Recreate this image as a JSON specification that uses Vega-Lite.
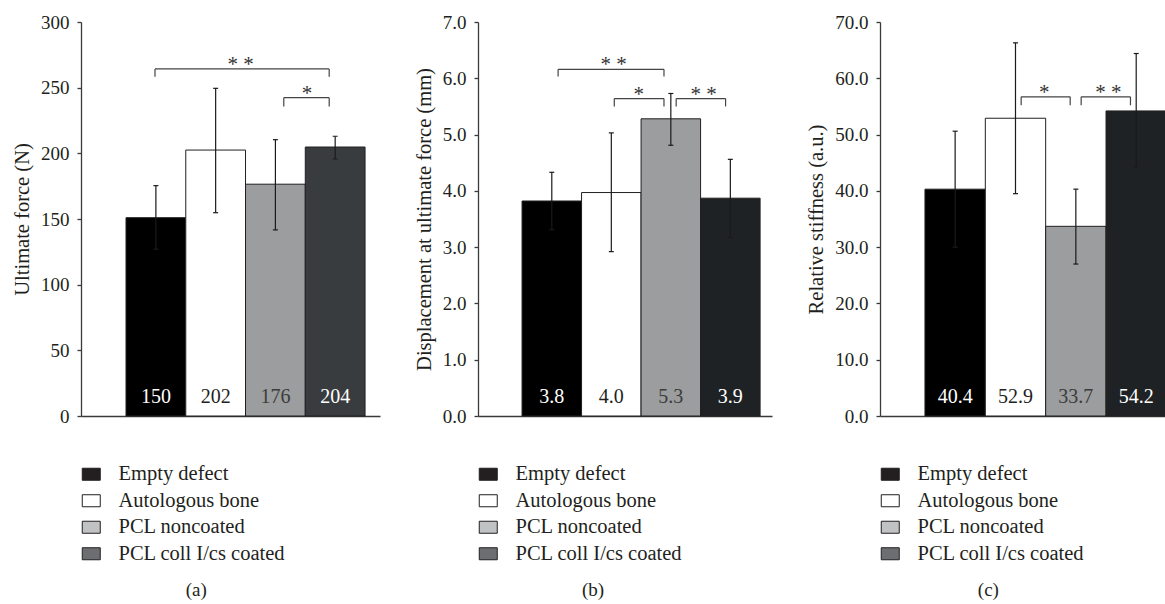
{
  "$schema": "https://vega.github.io/schema/vega-lite/v6.json",
  "padding": {"left": 12, "top": 13, "right": 0, "bottom": 0},
  "spacing": 34,
  "datasets": {
    "bars_a": [
      {"group": "Empty defect", "x0": 0, "x1": 1, "xc": 0.5, "mean": 151, "lo": 127, "hi": 175.4, "label": "150"},
      {"group": "Autologous bone", "x0": 1, "x1": 2, "xc": 1.5, "mean": 202.5, "lo": 154.8, "hi": 249.5, "label": "202"},
      {"group": "PCL noncoated", "x0": 2, "x1": 3, "xc": 2.5, "mean": 176.5, "lo": 141.7, "hi": 210.4, "label": "176"},
      {"group": "PCL coll I/cs coated", "x0": 3, "x1": 4, "xc": 3.5, "mean": 204.8, "lo": 195.7, "hi": 213, "label": "204"}
    ],
    "bars_b": [
      {"group": "Empty defect", "x0": 0, "x1": 1, "xc": 0.5, "mean": 3.82, "lo": 3.31, "hi": 4.33, "label": "3.8"},
      {"group": "Autologous bone", "x0": 1, "x1": 2, "xc": 1.5, "mean": 3.97, "lo": 2.92, "hi": 5.03, "label": "4.0"},
      {"group": "PCL noncoated", "x0": 2, "x1": 3, "xc": 2.5, "mean": 5.28, "lo": 4.81, "hi": 5.73, "label": "5.3"},
      {"group": "PCL coll I/cs coated", "x0": 3, "x1": 4, "xc": 3.5, "mean": 3.87, "lo": 3.17, "hi": 4.56, "label": "3.9"}
    ],
    "bars_c": [
      {"group": "Empty defect", "x0": 0, "x1": 1, "xc": 0.5, "mean": 40.3, "lo": 30.0, "hi": 50.6, "label": "40.4"},
      {"group": "Autologous bone", "x0": 1, "x1": 2, "xc": 1.5, "mean": 52.9, "lo": 39.5, "hi": 66.3, "label": "52.9"},
      {"group": "PCL noncoated", "x0": 2, "x1": 3, "xc": 2.5, "mean": 33.7, "lo": 27.0, "hi": 40.3, "label": "33.7"},
      {"group": "PCL coll I/cs coated", "x0": 3, "x1": 4, "xc": 3.5, "mean": 54.2, "lo": 44.1, "hi": 64.4, "label": "54.2"}
    ],
    "br_a": [
      {"xl": 0.485, "xr": 3.4, "xm": 1.92, "y": 264.3, "yt": 258.4, "stars": "* *"},
      {"xl": 2.64, "xr": 3.4, "xm": 3.03, "y": 242.4, "yt": 235.6, "stars": "*"}
    ],
    "br_b": [
      {"xl": 0.606, "xr": 2.385, "xm": 1.54, "y": 6.16, "yt": 6.03, "stars": "* *"},
      {"xl": 1.55, "xr": 2.385, "xm": 1.96, "y": 5.64, "yt": 5.5, "stars": "*"},
      {"xl": 2.59, "xr": 3.42, "xm": 3.05, "y": 5.64, "yt": 5.5, "stars": "* *"}
    ],
    "br_c": [
      {"xl": 1.594, "xr": 2.406, "xm": 1.975, "y": 56.7, "yt": 55.2, "stars": "*"},
      {"xl": 2.588, "xr": 3.405, "xm": 3.04, "y": 56.7, "yt": 55.2, "stars": "* *"}
    ]
  },
  "hconcat": [
    {
      "width": 299, "height": 394,
      "title": {"text": "(a)"},
      "layer": [
        {"data": {"name": "bars_a"},
         "mark": {"type": "bar", "stroke": "#231f20", "strokeWidth": 1},
         "encoding": {
           "x": {"field": "x0", "type": "quantitative", "scale": {"domain": [-0.753, 4.25], "nice": false, "zero": false}},
           "x2": {"field": "x1"},
           "y": {"field": "mean", "type": "quantitative", "scale": {"domain": [0, 300], "nice": false},
                 "axis": {"title": "Ultimate force (N)", "values": [0, 50, 100, 150, 200, 250, 300], "format": "d"}},
           "y2": {"datum": 0},
           "fill": {"condition": [{"test": "datum.group === 'Empty defect'", "value": "#000000"}, {"test": "datum.group === 'PCL noncoated'", "value": "#9b9d9e"}, {"test": "datum.group === 'PCL coll I/cs coated'", "value": "#393c3f"}],
                    "field": "group", "type": "nominal",
                    "scale": {"domain": ["Empty defect", "Autologous bone", "PCL noncoated", "PCL coll I/cs coated"], "range": ["#231f20", "#ffffff", "#c1c2c4", "#6d6e71"]},
                    "legend": {"orient": "none", "legendX": 0, "legendY": 442, "direction": "vertical", "title": null}}
         }},
        {"data": {"name": "bars_a"}, "mark": {"type": "rule", "color": "#1a1a1a", "strokeWidth": 1.2},
         "encoding": {"x": {"field": "xc", "type": "quantitative"}, "y": {"field": "lo", "type": "quantitative"}, "y2": {"field": "hi"}}},
        {"data": {"name": "bars_a"}, "mark": {"type": "tick", "orient": "horizontal", "size": 5, "thickness": 1.2, "color": "#1a1a1a", "opacity": 1},
         "encoding": {"x": {"field": "xc", "type": "quantitative"}, "y": {"field": "hi", "type": "quantitative"}}},
        {"data": {"name": "bars_a"}, "mark": {"type": "tick", "orient": "horizontal", "size": 5, "thickness": 1.2, "color": "#1a1a1a", "opacity": 1},
         "encoding": {"x": {"field": "xc", "type": "quantitative"}, "y": {"field": "lo", "type": "quantitative"}}},
        {"data": {"name": "bars_a"}, "mark": {"type": "text", "baseline": "alphabetic", "dy": -13, "fontSize": 20, "font": "Liberation Serif"},
         "encoding": {"x": {"field": "xc", "type": "quantitative"}, "y": {"datum": 0}, "text": {"field": "label"},
                      "fill": {"condition": [{"test": "datum.group === 'Autologous bone'", "value": "#231f20"}, {"test": "datum.group === 'PCL noncoated'", "value": "#3c3c3c"}], "value": "#ffffff"}}},
        {"data": {"name": "br_a"}, "mark": {"type": "rule", "color": "#444444", "strokeWidth": 1.2},
         "encoding": {"x": {"field": "xl", "type": "quantitative"}, "x2": {"field": "xr"}, "y": {"field": "y", "type": "quantitative"}}},
        {"data": {"name": "br_a"}, "mark": {"type": "rule", "color": "#444444", "strokeWidth": 1.2},
         "encoding": {"x": {"field": "xl", "type": "quantitative"}, "y": {"field": "y", "type": "quantitative"}, "y2": {"field": "yt"}}},
        {"data": {"name": "br_a"}, "mark": {"type": "rule", "color": "#444444", "strokeWidth": 1.2},
         "encoding": {"x": {"field": "xr", "type": "quantitative"}, "y": {"field": "y", "type": "quantitative"}, "y2": {"field": "yt"}}},
        {"data": {"name": "br_a"}, "mark": {"type": "text", "baseline": "alphabetic", "dy": 2, "fontSize": 21, "font": "Liberation Serif", "color": "#333333"},
         "encoding": {"x": {"field": "xm", "type": "quantitative"}, "y": {"field": "y", "type": "quantitative"}, "text": {"field": "stars"}}}
      ]
    },
    {
      "width": 294, "height": 394,
      "title": {"text": "(b)"},
      "layer": [
        {"data": {"name": "bars_b"},
         "mark": {"type": "bar", "stroke": "#231f20", "strokeWidth": 1},
         "encoding": {
           "x": {"field": "x0", "type": "quantitative", "scale": {"domain": [-0.74, 4.2], "nice": false, "zero": false}},
           "x2": {"field": "x1"},
           "y": {"field": "mean", "type": "quantitative", "scale": {"domain": [0, 7], "nice": false},
                 "axis": {"title": "Displacement at ultimate force (mm)", "values": [0, 1, 2, 3, 4, 5, 6, 7], "format": ".1f"}},
           "y2": {"datum": 0},
           "fill": {"condition": [{"test": "datum.group === 'Empty defect'", "value": "#000000"}, {"test": "datum.group === 'PCL noncoated'", "value": "#9b9d9e"}, {"test": "datum.group === 'PCL coll I/cs coated'", "value": "#1f2224"}],
                    "field": "group", "type": "nominal",
                    "scale": {"domain": ["Empty defect", "Autologous bone", "PCL noncoated", "PCL coll I/cs coated"], "range": ["#231f20", "#ffffff", "#c1c2c4", "#6d6e71"]},
                    "legend": {"orient": "none", "legendX": 0, "legendY": 442, "direction": "vertical", "title": null}}
         }},
        {"data": {"name": "bars_b"}, "mark": {"type": "rule", "color": "#1a1a1a", "strokeWidth": 1.2},
         "encoding": {"x": {"field": "xc", "type": "quantitative"}, "y": {"field": "lo", "type": "quantitative"}, "y2": {"field": "hi"}}},
        {"data": {"name": "bars_b"}, "mark": {"type": "tick", "orient": "horizontal", "size": 5, "thickness": 1.2, "color": "#1a1a1a", "opacity": 1},
         "encoding": {"x": {"field": "xc", "type": "quantitative"}, "y": {"field": "hi", "type": "quantitative"}}},
        {"data": {"name": "bars_b"}, "mark": {"type": "tick", "orient": "horizontal", "size": 5, "thickness": 1.2, "color": "#1a1a1a", "opacity": 1},
         "encoding": {"x": {"field": "xc", "type": "quantitative"}, "y": {"field": "lo", "type": "quantitative"}}},
        {"data": {"name": "bars_b"}, "mark": {"type": "text", "baseline": "alphabetic", "dy": -13, "fontSize": 20, "font": "Liberation Serif"},
         "encoding": {"x": {"field": "xc", "type": "quantitative"}, "y": {"datum": 0}, "text": {"field": "label"},
                      "fill": {"condition": [{"test": "datum.group === 'Autologous bone'", "value": "#231f20"}, {"test": "datum.group === 'PCL noncoated'", "value": "#3c3c3c"}], "value": "#ffffff"}}},
        {"data": {"name": "br_b"}, "mark": {"type": "rule", "color": "#444444", "strokeWidth": 1.2},
         "encoding": {"x": {"field": "xl", "type": "quantitative"}, "x2": {"field": "xr"}, "y": {"field": "y", "type": "quantitative"}}},
        {"data": {"name": "br_b"}, "mark": {"type": "rule", "color": "#444444", "strokeWidth": 1.2},
         "encoding": {"x": {"field": "xl", "type": "quantitative"}, "y": {"field": "y", "type": "quantitative"}, "y2": {"field": "yt"}}},
        {"data": {"name": "br_b"}, "mark": {"type": "rule", "color": "#444444", "strokeWidth": 1.2},
         "encoding": {"x": {"field": "xr", "type": "quantitative"}, "y": {"field": "y", "type": "quantitative"}, "y2": {"field": "yt"}}},
        {"data": {"name": "br_b"}, "mark": {"type": "text", "baseline": "alphabetic", "dy": 2, "fontSize": 21, "font": "Liberation Serif", "color": "#333333"},
         "encoding": {"x": {"field": "xm", "type": "quantitative"}, "y": {"field": "y", "type": "quantitative"}, "text": {"field": "stars"}}}
      ]
    },
    {
      "width": 290, "height": 394,
      "title": {"text": "(c)"},
      "layer": [
        {"data": {"name": "bars_c"},
         "mark": {"type": "bar", "stroke": "#231f20", "strokeWidth": 1},
         "encoding": {
           "x": {"field": "x0", "type": "quantitative", "scale": {"domain": [-0.745, 4.06], "nice": false, "zero": false}},
           "x2": {"field": "x1"},
           "y": {"field": "mean", "type": "quantitative", "scale": {"domain": [0, 70], "nice": false},
                 "axis": {"title": "Relative stiffness (a.u.)", "values": [0, 10, 20, 30, 40, 50, 60, 70], "format": ".1f"}},
           "y2": {"datum": 0},
           "fill": {"condition": [{"test": "datum.group === 'Empty defect'", "value": "#000000"}, {"test": "datum.group === 'PCL noncoated'", "value": "#9b9d9e"}, {"test": "datum.group === 'PCL coll I/cs coated'", "value": "#1f2224"}],
                    "field": "group", "type": "nominal",
                    "scale": {"domain": ["Empty defect", "Autologous bone", "PCL noncoated", "PCL coll I/cs coated"], "range": ["#231f20", "#ffffff", "#c1c2c4", "#6d6e71"]},
                    "legend": {"orient": "none", "legendX": 0, "legendY": 442, "direction": "vertical", "title": null}}
         }},
        {"data": {"name": "bars_c"}, "mark": {"type": "rule", "color": "#1a1a1a", "strokeWidth": 1.2},
         "encoding": {"x": {"field": "xc", "type": "quantitative"}, "y": {"field": "lo", "type": "quantitative"}, "y2": {"field": "hi"}}},
        {"data": {"name": "bars_c"}, "mark": {"type": "tick", "orient": "horizontal", "size": 5, "thickness": 1.2, "color": "#1a1a1a", "opacity": 1},
         "encoding": {"x": {"field": "xc", "type": "quantitative"}, "y": {"field": "hi", "type": "quantitative"}}},
        {"data": {"name": "bars_c"}, "mark": {"type": "tick", "orient": "horizontal", "size": 5, "thickness": 1.2, "color": "#1a1a1a", "opacity": 1},
         "encoding": {"x": {"field": "xc", "type": "quantitative"}, "y": {"field": "lo", "type": "quantitative"}}},
        {"data": {"name": "bars_c"}, "mark": {"type": "text", "baseline": "alphabetic", "dy": -13, "fontSize": 20, "font": "Liberation Serif"},
         "encoding": {"x": {"field": "xc", "type": "quantitative"}, "y": {"datum": 0}, "text": {"field": "label"},
                      "fill": {"condition": [{"test": "datum.group === 'Autologous bone'", "value": "#231f20"}, {"test": "datum.group === 'PCL noncoated'", "value": "#3c3c3c"}], "value": "#ffffff"}}},
        {"data": {"name": "br_c"}, "mark": {"type": "rule", "color": "#444444", "strokeWidth": 1.2},
         "encoding": {"x": {"field": "xl", "type": "quantitative"}, "x2": {"field": "xr"}, "y": {"field": "y", "type": "quantitative"}}},
        {"data": {"name": "br_c"}, "mark": {"type": "rule", "color": "#444444", "strokeWidth": 1.2},
         "encoding": {"x": {"field": "xl", "type": "quantitative"}, "y": {"field": "y", "type": "quantitative"}, "y2": {"field": "yt"}}},
        {"data": {"name": "br_c"}, "mark": {"type": "rule", "color": "#444444", "strokeWidth": 1.2},
         "encoding": {"x": {"field": "xr", "type": "quantitative"}, "y": {"field": "y", "type": "quantitative"}, "y2": {"field": "yt"}}},
        {"data": {"name": "br_c"}, "mark": {"type": "text", "baseline": "alphabetic", "dy": 2, "fontSize": 21, "font": "Liberation Serif", "color": "#333333"},
         "encoding": {"x": {"field": "xm", "type": "quantitative"}, "y": {"field": "y", "type": "quantitative"}, "text": {"field": "stars"}}}
      ]
    }
  ],
  "resolve": {"scale": {"fill": "independent"}},
  "config": {
    "view": {"stroke": null},
    "font": "Liberation Serif",
    "axis": {"labelFont": "Liberation Serif", "labelFontSize": 19, "labelColor": "#231f20", "titleFont": "Liberation Serif", "titleFontSize": 20.5, "titleFontWeight": "normal", "titleColor": "#231f20", "domainColor": "#3a3a3a", "domainWidth": 1.3, "tickColor": "#3a3a3a", "tickSize": 4, "tickWidth": 1.3, "grid": false, "labelPadding": 8, "titlePadding": 8},
    "axisX": {"labels": false, "ticks": false, "title": null},
    "legend": {"symbolType": "M-1,-0.667H1V0.667H-1Z", "symbolSize": 324, "symbolStrokeColor": "#231f20", "symbolStrokeWidth": 1, "labelFont": "Liberation Serif", "labelFontSize": 20.5, "labelColor": "#231f20", "labelOffset": 17, "rowPadding": 5.5, "padding": 0, "labelLimit": 300},
    "title": {"orient": "bottom", "anchor": "middle", "frame": "bounds", "font": "Liberation Serif", "fontSize": 19, "fontWeight": "normal", "color": "#231f20", "offset": 16}
  }
}
